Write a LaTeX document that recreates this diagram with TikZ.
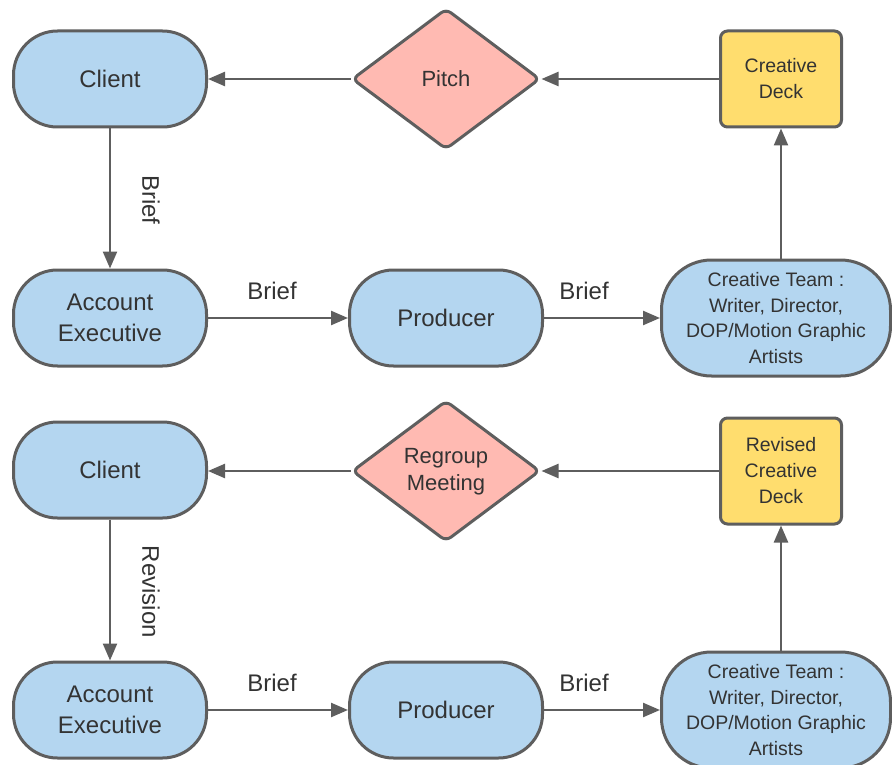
\documentclass[tikz,border=0pt]{standalone}
\usepackage{fontspec}
\setmainfont{Liberation Sans}
\usetikzlibrary{shapes.geometric,arrows.meta}
\definecolor{bluefill}{RGB}{180,214,240}
\definecolor{pinkfill}{RGB}{255,186,178}
\definecolor{yellowfill}{RGB}{255,221,110}
\definecolor{edge}{RGB}{94,94,94}
\definecolor{txt}{RGB}{51,51,51}
\tikzset{
  stadium/.style={draw=edge, line width=3pt, fill=bluefill, rounded corners=44pt,
    minimum width=193pt, minimum height=96pt, align=center, text=txt, font=\fontsize{24}{31}\selectfont, inner sep=0pt},
  teambox/.style={draw=edge, line width=3pt, fill=bluefill, rounded corners=50pt,
    minimum width=229pt, minimum height=116pt, align=center, text=txt, font=\fontsize{19.5}{25.7}\selectfont, inner sep=0pt},
  decision/.style={draw=edge, line width=3pt, fill=pinkfill, diamond, rounded corners=6pt,
    minimum width=188pt, minimum height=141pt, align=center, text=txt, font=\fontsize{22}{28}\selectfont, inner sep=0pt},
  deck/.style={draw=edge, line width=3pt, fill=yellowfill, rounded corners=7pt,
    minimum width=121pt, align=center, text=txt, font=\fontsize{19.5}{26}\selectfont, inner sep=0pt},
  arr/.style={draw=edge, line width=2.4pt, -{Triangle[length=17pt,width=14pt]}},
  lbl/.style={text=txt, font=\fontsize{24}{28}\selectfont, inner sep=0pt},
}
\begin{document}
\begin{tikzpicture}[x=1pt,y=-1pt]
\useasboundingbox (0,0) rectangle (892,765);
% top half
\node[stadium] (c1) at (110,79) {Client};
\node[decision] (p1) at (446,79) {Pitch};
\node[deck, minimum height=96pt] (d1) at (781,79) {Creative\\Deck};
\node[stadium] (a1) at (110,318) {Account\\Executive};
\node[stadium] (pr1) at (446,318) {Producer};
\node[teambox] (t1) at (776,318) {Creative Team :\\Writer, Director,\\DOP/Motion Graphic\\Artists};
\draw[arr] (p1.west) -- (c1.east);
\draw[arr] (d1.west) -- (p1.east);
\draw[arr] (c1.south) -- (a1.north);
\draw[arr] (a1.east) -- (pr1.west);
\draw[arr] (pr1.east) -- (t1.west);
\draw[arr] (t1.north -| d1.south) -- (d1.south);
\node[lbl, rotate=-90] (b0) at (151,200) {Brief};
\node[lbl] (b1) at (272,291) {Brief};
\node[lbl] (b2) at (584,291) {Brief};
% bottom half
\node[stadium] (c2) at (110,470) {Client};
\node[decision] (p2) at (446,471) {\raisebox{4pt}{\begin{tabular}{@{}c@{}}Regroup\\[-1pt]Meeting\end{tabular}}};
\node[deck, minimum height=106pt] (d2) at (781,471) {Revised\\Creative\\Deck};
\node[stadium] (a2) at (110,710) {Account\\Executive};
\node[stadium] (pr2) at (446,710) {Producer};
\node[teambox] (t2) at (776,710) {Creative Team :\\Writer, Director,\\DOP/Motion Graphic\\Artists};
\draw[arr] (p2.west) -- (p2.west -| c2.east);
\draw[arr] (d2.west) -- (p2.east);
\draw[arr] (c2.south) -- (a2.north);
\draw[arr] (a2.east) -- (pr2.west);
\draw[arr] (pr2.east) -- (t2.west);
\draw[arr] (t2.north -| d2.south) -- (d2.south);
\node[lbl, rotate=-90] (r0) at (151,592) {Revision};
\node[lbl] (b3) at (272,683) {Brief};
\node[lbl] (b4) at (584,683) {Brief};
\end{tikzpicture}
\end{document}
